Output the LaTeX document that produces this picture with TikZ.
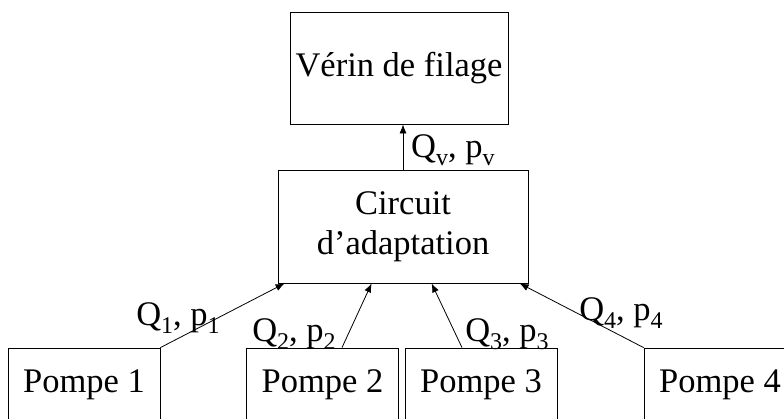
\documentclass[tikz,border=0pt]{standalone}
\usepackage{fontspec}
\setmainfont{Liberation Serif}
\usetikzlibrary{calc,arrows.meta}
\newcommand{\mysub}[1]{\raisebox{-0.22em}{\fontsize{24}{24}\selectfont #1}}
\begin{document}
\begin{tikzpicture}[x=1pt,y=-1pt,
  font=\fontsize{34.5}{40}\selectfont,
  box/.style={draw,line width=0.8pt,inner sep=0pt,anchor=center},
  flow/.style={line width=0.8pt,-{Latex[length=9pt,width=7pt]}},
  lbl/.style={inner sep=0pt}]
\useasboundingbox (0,0) rectangle (784,418);
\node[box,minimum width=218,minimum height=112] (verin) at (399,68) {Vérin de filage};
\node[box,minimum width=250,minimum height=113,align=center] (circ) at (403,226.5) {Circuit\\d’adaptation};
\node[box,minimum width=152,minimum height=74] (p1) at (84,385) {Pompe 1};
\node[box,minimum width=152,minimum height=74] (p2) at (322.5,385) {Pompe 2};
\node[box,minimum width=152,minimum height=74] (p3) at (481,385) {Pompe 3};
\node[box,minimum width=152,minimum height=74] (p4) at (720,385) {Pompe 4};
\coordinate (e1) at ($(circ.south west)+(7,0)$);
\coordinate (e2) at ($(circ.south west)+(94,0)$);
\coordinate (e3) at ($(circ.south west)+(154,0)$);
\coordinate (e4) at ($(circ.south west)+(242,0)$);
\coordinate (s2) at ($(p2.north)+(19.5,0)$);
\coordinate (s3) at ($(p3.north)+(-19,0)$);
\draw[flow] (circ.north) -- (verin.south -| circ.north);
\draw[flow] (p1.north east) -- (e1);
\draw[flow] (s2) -- (e2);
\draw[flow] (s3) -- (e3);
\draw[flow] (p4.north west) -- (e4);
\node[lbl,anchor=west] (lv) at (411,150) {Q\mysub{v}, p\mysub{v}};
\node[lbl] (l1) at (178,318) {Q\mysub{1}, p\mysub{1}};
\node[lbl] (l2) at (294,334) {Q\mysub{2}, p\mysub{2}};
\node[lbl] (l3) at (507,334) {Q\mysub{3}, p\mysub{3}};
\node[lbl] (l4) at (621,313) {Q\mysub{4}, p\mysub{4}};
\end{tikzpicture}
\end{document}
